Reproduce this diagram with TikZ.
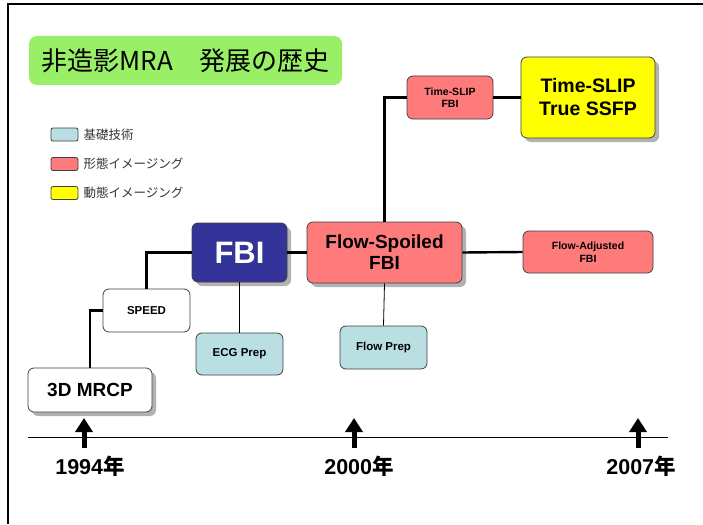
\documentclass[tikz,border=0pt]{standalone}
\usepackage{fontspec}
\setmainfont{Liberation Sans}
\newfontfamily\jp{Noto Sans CJK JP}
\usetikzlibrary{arrows.meta,shadows}
\definecolor{basecol}{HTML}{B9DFE2}
\definecolor{morphcol}{HTML}{FF7B7B}
\definecolor{dyncol}{HTML}{FFFF00}
\definecolor{fbicol}{HTML}{333399}
\definecolor{titlecol}{HTML}{99F066}
\definecolor{edgecol}{HTML}{404040}
\tikzset{
  box/.style={draw=edgecol, line width=0.8pt, rounded corners=6pt, inner sep=0pt, align=center, font=\bfseries},
  shd/.style={drop shadow={shadow xshift=4pt, shadow yshift=-4pt, fill=black!30, opacity=1}},
  thick line/.style={line width=2.4pt},
  thin line/.style={line width=0.8pt},
  swatch/.style={draw=edgecol, line width=0.8pt, rounded corners=2pt, minimum width=27pt, minimum height=13pt, inner sep=0pt},
  legtext/.style={anchor=west, font=\jp\fontsize{12.5}{14}\selectfont, text=black!80},
  yeararrow/.style={line width=5pt, -{Triangle[width=17pt,length=14pt]}},
  yearlabel/.style={font=\bfseries\fontsize{21.5}{23}\selectfont},
}
\begin{document}
\begin{tikzpicture}[x=1pt,y=-1pt]
\useasboundingbox (0,0) rectangle (703,524);
\fill[white] (0,0) rectangle (703,524);
\draw[line width=1.2pt] (8,524) -- (8,4) -- (703,4);

% title
\node[fill=titlecol, rounded corners=8pt, minimum width=313pt, minimum height=49pt, inner sep=0pt,
      font=\jp\fontsize{26}{28}\selectfont] (title) at (185.5,60.5) {非造影MRA　発展の歴史};

% legend
\node[swatch, fill=basecol] (sw1) at (64.5,134.5) {};
\node[swatch, fill=morphcol] (sw2) at (64.5,164) {};
\node[swatch, fill=dyncol] (sw3) at (64.5,193) {};
\node[legtext] (lg1) at (80,134.5) {基礎技術};
\node[legtext] (lg2) at (80,164) {形態イメージング};
\node[legtext] (lg3) at (80,193) {動態イメージング};

% boxes
\node[box, shd, fill=white, minimum width=124pt, minimum height=44pt, font=\bfseries\fontsize{19}{21}\selectfont] (mrcp) at (90,390) {3D MRCP};
\node[box, fill=white, minimum width=87pt, minimum height=43pt, font=\bfseries\fontsize{11.5}{13}\selectfont] (speed) at (146.5,310.5) {SPEED};
\node[box, shd, fill=fbicol, text=white, minimum width=95pt, minimum height=59pt, font=\bfseries\fontsize{31}{33}\selectfont] (fbi) at (239.5,252.5) {FBI};
\node[box, fill=basecol, minimum width=87pt, minimum height=42pt, font=\bfseries\fontsize{11.5}{13}\selectfont] (ecg) at (239.5,354) {ECG Prep};
\node[box, shd, fill=morphcol, minimum width=155pt, minimum height=61pt, font=\bfseries\fontsize{19}{21}\selectfont] (fs) at (384.5,252.5) {Flow-Spoiled\\FBI};
\node[box, fill=basecol, minimum width=87pt, minimum height=43pt, font=\bfseries\fontsize{11.5}{13}\selectfont] (fp) at (383.5,347.5) {Flow Prep};
\node[box, fill=morphcol, minimum width=130pt, minimum height=42pt, font=\bfseries\fontsize{10.5}{12.5}\selectfont] (fa) at (588,252) {Flow-Adjusted\\FBI};
\node[box, fill=morphcol, minimum width=86pt, minimum height=43pt, font=\bfseries\fontsize{10.5}{12.5}\selectfont] (tsf) at (450,97.5) {Time-SLIP\\FBI};
\node[box, shd, fill=dyncol, minimum width=134pt, minimum height=81pt, font=\bfseries\fontsize{19.5}{23}\selectfont] (tsy) at (588,97.5) {Time-SLIP\\True SSFP};

% connectors
\draw[thick line] (mrcp.north) |- (speed.west);
\draw[thick line] (speed.north) |- (fbi.west);
\draw[thick line] (fbi.east) -- (fs.west);
\draw[thin line] (fbi.south) -- (ecg.north);
\draw[thick line] (fs.north) |- (tsf.west);
\draw[thick line] (tsf.east) -- (tsy.west);
\draw[thick line] (fs.east) -- (fa.west);
\draw[thin line] (fs.south) -- (fp.north);

% timeline
\coordinate (tl0) at (28,437);
\coordinate (tl1) at (668,437);
\draw[line width=1pt] (tl0) -- (tl1);
\coordinate (a1s) at (84,448); \coordinate (a1e) at (84,418);
\coordinate (a2s) at (354,448); \coordinate (a2e) at (354,418);
\coordinate (a3s) at (638,448); \coordinate (a3e) at (638,418);
\draw[yeararrow] (a1s) -- (a1e);
\draw[yeararrow] (a2s) -- (a2e);
\draw[yeararrow] (a3s) -- (a3e);
\node[yearlabel] (y1) at (90,466) {1994{\jp\bfseries 年}};
\node[yearlabel] (y2) at (359,466) {2000{\jp\bfseries 年}};
\node[yearlabel] (y3) at (641,466) {2007{\jp\bfseries 年}};
\end{tikzpicture}
\end{document}
